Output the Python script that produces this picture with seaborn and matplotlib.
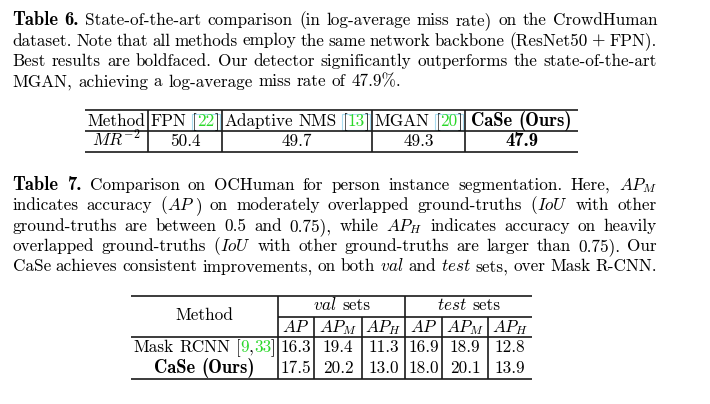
import matplotlib
matplotlib.use("Agg")
import matplotlib.pyplot as plt
import seaborn as sns
from matplotlib.patches import Rectangle

# ---------------- data ----------------
t6_methods = ["FPN", "Adaptive NMS", "MGAN", "CaSe (Ours)"]
t6_refs = ["22", "13", "20", None]
t6_mr = [50.4, 49.7, 49.3, 47.9]
t6_metric = r"$MR^{-2}$"

t7_methods = ["Mask RCNN", "CaSe (Ours)"]
t7_refs = [["9", "33"], None]
t7_groups = ["val", "test"]
t7_metrics = [r"$AP$", r"$AP_M$", r"$AP_H$"]
val_ap = [16.3, 17.5]
val_ap_m = [19.4, 20.2]
val_ap_h = [11.3, 13.0]
test_ap = [16.9, 18.0]
test_ap_m = [18.9, 20.1]
test_ap_h = [12.8, 13.9]

cap6 = [
    [("Table 6.", "b"), (" State-of-the-art comparison (in log-average miss rate) on the CrowdHuman", "r")],
    [("dataset. Note that all methods employ the same network backbone (ResNet50 + FPN).", "r")],
    [("Best results are boldfaced. Our detector significantly outperforms the state-of-the-art", "r")],
    [("MGAN, achieving a log-average miss rate of 47.9%.", "r")],
]
cap7 = [
    [("Table 7.", "b"), (" Comparison on OCHuman for person instance segmentation. Here, ", "r"), (r"$AP_M$", "m")],
    [("indicates accuracy (", "r"), (r"$AP$", "m"), (") on moderately overlapped ground-truths (", "r"),
     (r"$IoU$", "m"), (" with other", "r")],
    [("ground-truths are between 0.5 and 0.75), while ", "r"), (r"$AP_H$", "m"),
     (" indicates accuracy on heavily", "r")],
    [("overlapped ground-truths (", "r"), (r"$IoU$", "m"),
     (" with other ground-truths are larger than 0.75). Our", "r")],
    [("CaSe achieves consistent improvements, on both ", "r"), (r"$\mathit{val}$", "m"), (" and ", "r"),
     (r"$\mathit{test}$", "m"), (" sets, over Mask R-CNN.", "r")],
]

# ---------------- style ----------------
sns.set_style("white")
plt.rcParams["mathtext.fontset"] = "cm"
plt.rcParams["axes.unicode_minus"] = False
INK = "#000000"
GREEN = "#2ad82a"
RULE = "#1a1a1a"
BOLD_SCALE = 1.08

fig = plt.figure(figsize=(7.10, 4.04), dpi=100)
ax = fig.add_axes([0, 0, 1, 1])
ax.set_xlim(0, 710)
ax.set_ylim(404, 0)
ax.axis("off")
renderer = fig.canvas.get_renderer()

STY = {
    "r": dict(family="cmr10", color=INK),
    "b": dict(family="cmb10", color=INK),
    "m": dict(family="cmr10", color=INK),
    "g": dict(family="cmr10", color=GREEN),
}


def size_for(st, fs):
    return fs * BOLD_SCALE if st == "b" else fs


def measure(t, st, fs):
    tx = ax.text(0, 0, t, fontsize=size_for(st, fs), **STY[st])
    w = tx.get_window_extent(renderer).width
    tx.remove()
    return w


def split_words(segs):
    words = [[]]
    for text, st in segs:
        if st == "m":
            words[-1].append((text, st))
            continue
        parts = text.split(" ")
        for i, p in enumerate(parts):
            if i > 0:
                words.append([])
            if p:
                words[-1].append((p, st))
    return [w for w in words if w]


def natural_width(segs, fs):
    words = split_words(segs)
    sp = 0.333 * fs * 100 / 72
    return sum(measure(t, s, fs) for w in words for t, s in w) + sp * (len(words) - 1)


def draw_line(x0, y, segs, fs, right=None, center=None):
    words = split_words(segs)
    pw = [[measure(t, s, fs) for t, s in w] for w in words]
    ww = [sum(p) for p in pw]
    sp = 0.333 * fs * 100 / 72
    if right is not None and len(words) > 1:
        sp = (right - x0 - sum(ww)) / (len(words) - 1)
    total = sum(ww) + sp * (len(words) - 1)
    if center is not None:
        x0 = center - total / 2
    x = x0
    recs = []
    for w, p in zip(words, pw):
        for (t, s), wd in zip(w, p):
            ax.text(x, y, t, fontsize=size_for(s, fs), va="baseline", ha="left", **STY[s])
            recs.append((t, x, x + wd))
            x += wd
        x += sp
    return recs


# font size from the ragged last line of the first caption (12.5 -> 401 px)
fs = 10 * (401 - 12.5) / natural_width(cap6[-1], 10)

LEFT, RIGHT = 12.5, 657
for i, segs in enumerate(cap6):
    y = 25 + i * 20.5
    draw_line(LEFT, y, segs, fs, right=RIGHT if i < len(cap6) - 1 else None)
for i, segs in enumerate(cap7):
    y = 190 + i * 20.35
    draw_line(LEFT, y, segs, fs, right=RIGHT)

LW = 1.2

# ---------------- Table 6 ----------------
t6x = [85, 148, 222, 372, 465, 578]
t6y = [110, 131, 152]
for yy in t6y:
    ax.hlines(yy, t6x[0], t6x[-1], color=RULE, lw=LW)
for xx in t6x[1:-1]:
    ax.vlines(xx, t6y[0], t6y[-1], color=RULE, lw=LW)

hb, rb = 126, 146
draw_line(0, hb, [("Method", "r")], fs, center=(t6x[0] + t6x[1]) / 2)
draw_line(0, rb, [(t6_metric, "m")], fs, center=(t6x[0] + t6x[1]) / 2)
for j, (name, ref, val) in enumerate(zip(t6_methods, t6_refs, t6_mr)):
    c = (t6x[j + 1] + t6x[j + 2]) / 2
    best = val == min(t6_mr)
    if ref:
        recs = draw_line(0, hb, [(name, "r"), (" [", "r"), (ref, "g"), ("]", "r")], fs, center=c)
        xs = [r for r in recs if r[0] == "["][0][1]
        xe = recs[-1][2]
        ax.add_patch(Rectangle((xs - 0.5, hb - 12.5), xe - xs + 1, 16.5, fill=False,
                               ec="#a8dcf0", lw=0.8))
    else:
        draw_line(0, hb, [(name, "b" if best else "r")], fs, center=c)
    draw_line(0, rb, [(f"{val:.1f}", "b" if best else "r")], fs, center=c)

# ---------------- Table 7 ----------------
t7x = [131, 278, 314, 362, 405, 442, 488, 532]
ytop, ymid, yhead, ybot = 296, 317, 337, 379
ax.hlines(ytop, t7x[0], t7x[-1], color=RULE, lw=LW)
ax.hlines(ymid, t7x[1], t7x[-1], color=RULE, lw=LW)
ax.hlines(yhead, t7x[0], t7x[-1], color=RULE, lw=LW)
ax.hlines(ybot, t7x[0], t7x[-1], color=RULE, lw=LW)
for xx in (t7x[1], t7x[4]):
    ax.vlines(xx, ytop, ybot, color=RULE, lw=LW)
for xx in (t7x[2], t7x[3], t7x[5], t7x[6]):
    ax.vlines(xx, ymid, ybot, color=RULE, lw=LW)

draw_line(0, 320, [("Method", "r")], fs, center=(t7x[0] + t7x[1]) / 2)
draw_line(0, 310.5, [(r"$\mathit{" + t7_groups[0] + "}$", "m"), (" sets", "r")], fs,
          center=(t7x[1] + t7x[4]) / 2)
draw_line(0, 310.5, [(r"$\mathit{" + t7_groups[1] + "}$", "m"), (" sets", "r")], fs,
          center=(t7x[4] + t7x[7]) / 2)
for k in range(6):
    draw_line(0, 332.5, [(t7_metrics[k % 3], "m")], fs, center=(t7x[k + 1] + t7x[k + 2]) / 2)

cols = [val_ap, val_ap_m, val_ap_h, test_ap, test_ap_m, test_ap_h]
row_y = [352.5, 373]
for i, (name, refs) in enumerate(zip(t7_methods, t7_refs)):
    c = (t7x[0] + t7x[1]) / 2
    if refs:
        segs = [(name, "r"), (" [", "r"), (refs[0], "g"), (",", "r"), (refs[1], "g"), ("]", "r")]
    else:
        segs = [(name, "b")]
    draw_line(0, row_y[i], segs, fs, center=c)
    for k, col in enumerate(cols):
        draw_line(0, row_y[i], [(f"{col[i]:.1f}", "r")], fs, center=(t7x[k + 1] + t7x[k + 2]) / 2)

fig.savefig("out.png", dpi=100)
